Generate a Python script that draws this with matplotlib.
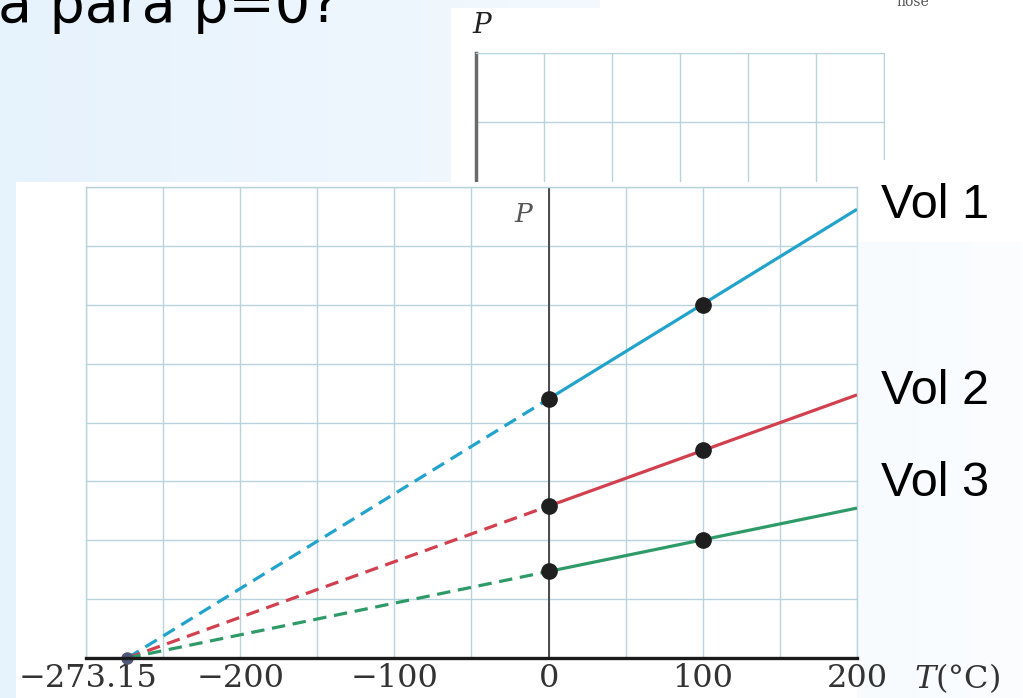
import numpy as np
import matplotlib as mpl
import matplotlib.pyplot as plt
from matplotlib.patches import Rectangle
from matplotlib.colors import LinearSegmentedColormap

mpl.rcParams.update({
    "mathtext.fontset": "dejavuserif",
    "axes.unicode_minus": True,
})

# --------------------------------------------------------------------------- #
# data: gas pressure at constant volume, read at 0 and 100 °C
# --------------------------------------------------------------------------- #
ABS_ZERO = -273.15
T_MEAS = [0, 100]
P_VOL1 = [4.40, 6.00]
P_VOL2 = [2.58, 3.53]
P_VOL3 = [1.47, 2.00]
SERIES = ["Vol 1", "Vol 2", "Vol 3"]
COLORS = ["#22a3cc", "#d2404f", "#2e9a68"]
TICK_T = [-200, -100, 0, 100, 200]
T_MAX = 200

W, H = 1023, 698
GRID = "#b9d3dc"

fig = plt.figure(figsize=(W / 100, H / 100), dpi=100)


def frac(x0, y0, x1, y1):
    # pixel box (top-left origin) -> figure fraction rect
    return [x0 / W, 1 - y1 / H, (x1 - x0) / W, (y1 - y0) / H]


# --- background canvas (pale slide gradient) ---
bg = fig.add_axes([0, 0, 1, 1], zorder=0)
bg.set_xlim(0, W)
bg.set_ylim(H, 0)
bg.axis("off")
grad = LinearSegmentedColormap.from_list("slide", ["#e6f2fc", "#f1f8fe", "#fbfdff"])
bg.imshow(np.linspace(0, 1, 256)[None, :], cmap=grad, aspect="auto", extent=(0, W, H, 0))
bg.add_patch(Rectangle((451, 8), W - 451, 174, fc="white", ec="none"))
bg.add_patch(Rectangle((600, 0), W - 600, 8, fc="white", ec="none"))
# slide title, only its lower part is on the crop
bg.text(-2, 22, "a para p=0?", fontsize=40, family="DejaVu Sans", va="baseline", color="black")
bg.text(913, 2, "nose", fontsize=10, family="DejaVu Serif", ha="center", va="center", color="#555555")
bg.text(483, 25, "$P$", fontsize=20, ha="center", va="center", color="#222222")

# --- partially hidden chart behind ---
back = fig.add_axes(frac(476, 53, 884, 191), zorder=1)
back.set_xlim(0, 6)
back.set_ylim(0, 2)
back.set_xticks(range(7))
back.set_yticks(range(3))
back.tick_params(length=0, labelbottom=False, labelleft=False)
back.grid(True, color=GRID, lw=1.0)
for s in ["top", "right", "bottom"]:
    back.spines[s].set_color(GRID)
back.spines["left"].set_color("#6b6b6b")
back.spines["left"].set_linewidth(2.5)

# --- overlay: white card for the main chart and the labels ---
ov = fig.add_axes([0, 0, 1, 1], zorder=2)
ov.set_xlim(0, W)
ov.set_ylim(H, 0)
ov.axis("off")
ov.patch.set_alpha(0)
ov.add_patch(Rectangle((16, 182), 857 - 16, H - 182, fc="white", ec="none"))
ov.add_patch(Rectangle((857, 160), W - 857, 82, fc="white", ec="none"))
lab_y = [205, 392, 483]
for name, y in zip(SERIES, lab_y):
    ov.text(881, y, name, fontsize=35, family=["Liberation Sans Narrow", "Liberation Sans"],
            ha="left", va="center", color="black")

# --- main chart ---
ax = fig.add_axes(frac(86, 187, 857, 658), zorder=3)
ax.set_xlim(-300, T_MAX)
ax.set_ylim(0, 8)
ax.set_xticks(np.arange(-300, T_MAX + 1, 50))
ax.set_yticks(np.arange(0, 9, 1))
ax.tick_params(length=0, labelbottom=False, labelleft=False)
ax.grid(True, color=GRID, lw=1.0, zorder=0)
ax.set_axisbelow(True)
for s in ["top", "left", "right"]:
    ax.spines[s].set_color(GRID)
    ax.spines[s].set_linewidth(1.0)
ax.spines["bottom"].set_color("#1a1a1a")
ax.spines["bottom"].set_linewidth(2.4)
ax.spines["bottom"].set_zorder(6)
ax.axvline(0, color="#4a4a4a", lw=1.4, zorder=2)

for p, c in zip([P_VOL1, P_VOL2, P_VOL3], COLORS):
    p0 = p[0]
    slope = p0 / (0 - ABS_ZERO)
    ax.plot([ABS_ZERO, 0], [0, p0], color=c, lw=2.3, ls=(0, (4.2, 2.4)), zorder=3)
    ax.plot([0, T_MAX], [p0, p0 + slope * T_MAX], color=c, lw=2.3, zorder=3,
            solid_capstyle="butt")
    ax.plot(T_MEAS, p, "o", color="#1f1f1f", ms=11, zorder=5)
ax.plot([ABS_ZERO], [0], "o", color="#50587a", ms=8, zorder=4, clip_on=False)

tick_font = dict(family="DejaVu Serif", fontsize=23, color="#333333", va="center")
xt = ax.get_xaxis_transform()
for t in TICK_T:
    ax.annotate(f"{t}".replace("-", "\u2212"), xy=(t, 0), xycoords=xt,
                xytext=(0, -14.5), textcoords="offset points", ha="center", **tick_font)
ax.annotate(f"{ABS_ZERO}".replace("-", "\u2212"), xy=(ABS_ZERO, 0), xycoords=xt,
            xytext=(22, -14.5), textcoords="offset points", ha="right", **tick_font)
ax.annotate("$T$(°C)", xy=(T_MAX, 0), xycoords=xt, xytext=(41, -14.5),
            textcoords="offset points", ha="left", **tick_font)
ax.annotate("$P$", xy=(0, 1), xycoords=("data", "axes fraction"), xytext=(-17.5, -20),
            textcoords="offset points", ha="center", va="center", fontsize=19, color="#555555")

fig.savefig("out.png", dpi=100)
